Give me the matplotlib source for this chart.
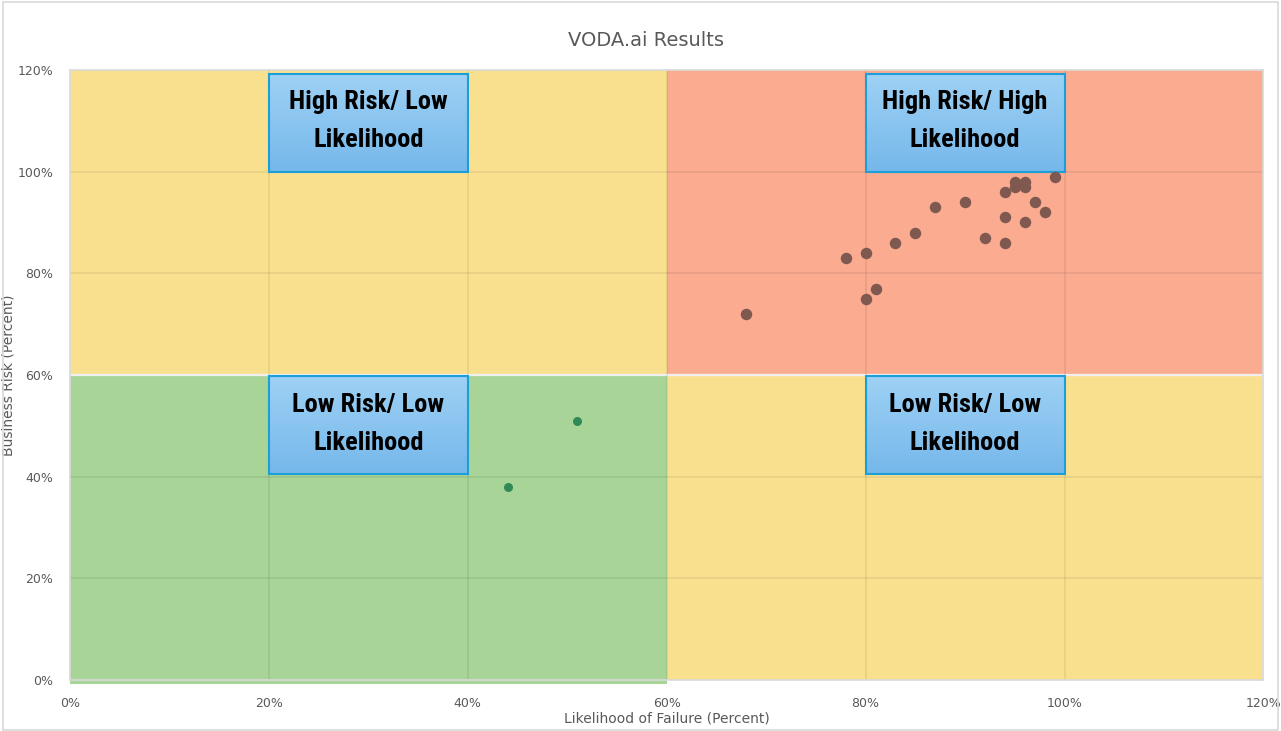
import matplotlib.pyplot as plt
import numpy as np
from matplotlib.patches import Rectangle
from matplotlib import font_manager

# scatter data (percent)
high_x = [68, 78, 80, 80, 81, 83, 85, 87, 90, 92, 94, 94, 94, 95, 95, 96, 96, 96, 97, 98, 99]
high_y = [72, 83, 84, 75, 77, 86, 88, 93, 94, 87, 96, 91, 86, 98, 97, 98, 97, 90, 94, 92, 99]
low_x = [44, 51]
low_y = [38, 51]

# quadrants: (x0, x1, y0, y1, colour)
quadrants = [
    (0, 60, 60, 120, '#F9E08F'),
    (60, 120, 60, 120, '#FAAB90'),
    (0, 60, 0, 60, '#A8D497'),
    (60, 120, 0, 60, '#F9E08F'),
]
box_labels = ['High Risk/ Low\nLikelihood', 'High Risk/ High\nLikelihood',
              'Low Risk/ Low\nLikelihood', 'Low Risk/ Low\nLikelihood']
box_x = [20, 80, 20, 80]
box_y = [100, 100, 40.5, 40.5]
box_w = 20
box_h = 19.2

ticks = [0, 20, 40, 60, 80, 100, 120]
tick_labels = ['{}%'.format(t) for t in ticks]

# pick a narrow bold face if one is installed
names = {f.name for f in font_manager.fontManager.ttflist}
box_font = 'DejaVu Sans'
box_size = 16
for cand in ['Liberation Sans Narrow', 'Roboto Condensed', 'Open Sans Condensed']:
    if cand in names:
        box_font = cand
        box_size = 19
        break
box_fp = font_manager.FontProperties(family=box_font, size=box_size, weight='bold')

fig = plt.figure(figsize=(12.81, 7.31), dpi=100)
fig.patches.append(Rectangle((0.002, 0.002), 0.996, 0.995, transform=fig.transFigure,
                             fill=False, ec='#D9D9D9', lw=1.2))
ax = fig.add_axes([0.0546, 0.0698, 0.9317, 0.8345])

for x0, x1, y0, y1, c in quadrants:
    yb = y0 - 0.8 if (y0 == 0 and c == '#A8D497') else y0
    ax.add_patch(Rectangle((x0, yb), x1 - x0, y1 - yb, fc=c, ec='none', zorder=1, clip_on=False))
ax.axhline(60, color='white', lw=1.6, zorder=2)

# grid over the fills, like the Excel chart
for t in ticks[1:-1]:
    ax.axvline(t, color='#000000', alpha=0.07, lw=1.3, zorder=2)
    ax.axhline(t, color='#000000', alpha=0.07, lw=1.3, zorder=2)

grad = np.linspace(0, 1, 100).reshape(-1, 1)
top = np.array([0.62, 0.82, 0.96])
bot = np.array([0.46, 0.72, 0.92])
img = top + (bot - top) * grad[:, :, None]
for lab, bx, by in zip(box_labels, box_x, box_y):
    ax.imshow(img, extent=(bx, bx + box_w, by, by + box_h), aspect='auto', zorder=3, origin='upper')
    ax.add_patch(Rectangle((bx, by), box_w, box_h, fill=False, ec='#1B9FD8', lw=1.5, zorder=4))
    ax.text(bx + box_w / 2, by + box_h / 2 + 0.3, lab, ha='center', va='center',
            fontproperties=box_fp, color='black', linespacing=1.75, zorder=5)

ax.scatter(high_x, high_y, s=68, color='#7F5850', zorder=6, linewidths=0)
ax.scatter(low_x, low_y, s=42, color='#2F8A56', zorder=6, linewidths=0)

ax.set_xlim(0, 120)
ax.set_ylim(0, 120)
ax.set_xticks(ticks)
ax.set_xticklabels(tick_labels)
ax.set_yticks(ticks)
ax.set_yticklabels(tick_labels)
ax.tick_params(length=0, labelsize=9, colors='#595959', pad=12)
for s in ax.spines.values():
    s.set_color('#D9D9D9')
    s.set_linewidth(1.2)

fig.text(646 / 1281, 1 - 40 / 731, 'VODA.ai Results', ha='center', va='center',
         fontsize=14, color='#595959')
ax.set_xlabel('Likelihood of Failure (Percent)', fontsize=10, color='#595959', labelpad=1)
ax.set_ylabel('Business Risk (Percent)', fontsize=10, color='#595959')
ax.yaxis.set_label_coords(-0.046, 0.5)

fig.savefig('out.png', dpi=100)
